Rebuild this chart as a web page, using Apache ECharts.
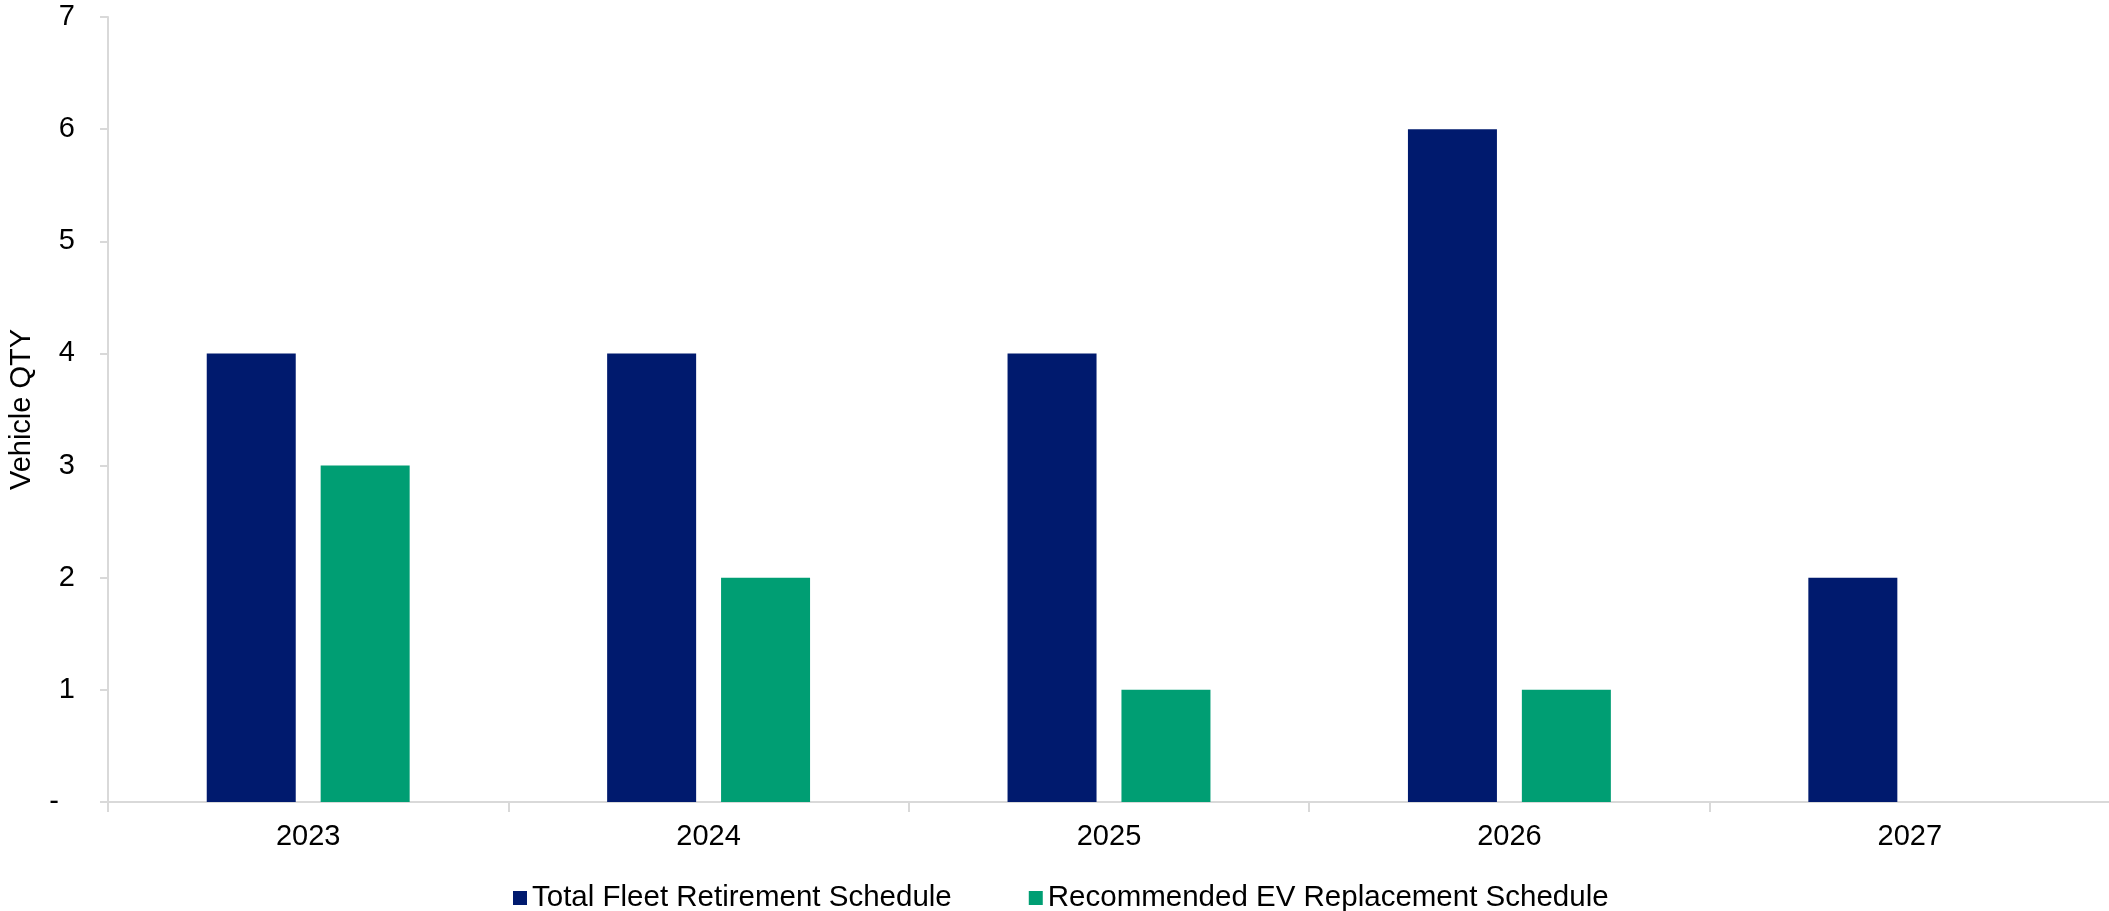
<!DOCTYPE html>
<html>
<head>
<meta charset="utf-8">
<script src="https://cdn.jsdelivr.net/npm/echarts@6/dist/echarts.min.js"></script>
<style>
  html, body { margin: 0; padding: 0; background: #ffffff; }
  #chart { width: 2109px; height: 911px; }
</style>
</head>
<body>
<div id="chart"></div>
<script>
// Fleet retirement vs EV replacement, vehicles per year
const years = ['2023', '2024', '2025', '2026', '2027'];
const retirementQty = [4, 4, 4, 6, 2];
const evReplacementQty = [3, 2, 1, 1, 0];
const seriesNames = ['Total Fleet Retirement Schedule', 'Recommended EV Replacement Schedule'];

const FONT = '"Liberation Sans", Arial, sans-serif';
const AXIS_GREY = '#d9d9d9';

const chart = echarts.init(document.getElementById('chart'), null, { renderer: 'canvas' });

chart.setOption({
  animation: false,
  backgroundColor: '#ffffff',
  grid: {
    left: 108, top: 17, width: 2002, bottom: 109,
    containLabel: false,
    outerBoundsMode: 'none'
  },
  legend: {
    left: 508,
    top: 878,
    itemWidth: 14,
    itemHeight: 14,
    itemGap: 77,
    icon: 'rect',
    textStyle: { fontFamily: FONT, fontSize: 29.5, color: '#000000' },
    data: seriesNames
  },
  xAxis: {
    type: 'category',
    data: years,
    axisLine: { show: true, lineStyle: { color: AXIS_GREY, width: 2 } },
    axisTick: { show: true, length: 10, alignWithLabel: false, lineStyle: { color: AXIS_GREY, width: 2 } },
    axisLabel: { fontFamily: FONT, fontSize: 29, color: '#000000', margin: 20 },
    splitLine: { show: false }
  },
  yAxis: {
    type: 'value',
    min: 0,
    max: 7,
    interval: 1,
    name: 'Vehicle QTY',
    nameLocation: 'middle',
    nameGap: 72,
    nameRotate: 90,
    nameTextStyle: { fontFamily: FONT, fontSize: 29, color: '#000000' },
    axisLine: { show: true, lineStyle: { color: AXIS_GREY, width: 2 } },
    axisTick: { show: true, inside: false, length: 8, lineStyle: { color: AXIS_GREY, width: 2 } },
    axisLabel: {
      fontFamily: FONT, fontSize: 29, color: '#000000', margin: 33,
      formatter: v => (v === 0 ? '-  ' : String(v))
    },
    splitLine: { show: false }
  },
  series: [
    {
      name: seriesNames[0],
      type: 'bar',
      data: retirementQty,
      barWidth: 89,
      barGap: '28%',
      itemStyle: { color: '#001a6e' }
    },
    {
      name: seriesNames[1],
      type: 'bar',
      data: evReplacementQty,
      barWidth: 89,
      barGap: '28%',
      itemStyle: { color: '#009e73' }
    }
  ]
});
</script>
</body>
</html>
